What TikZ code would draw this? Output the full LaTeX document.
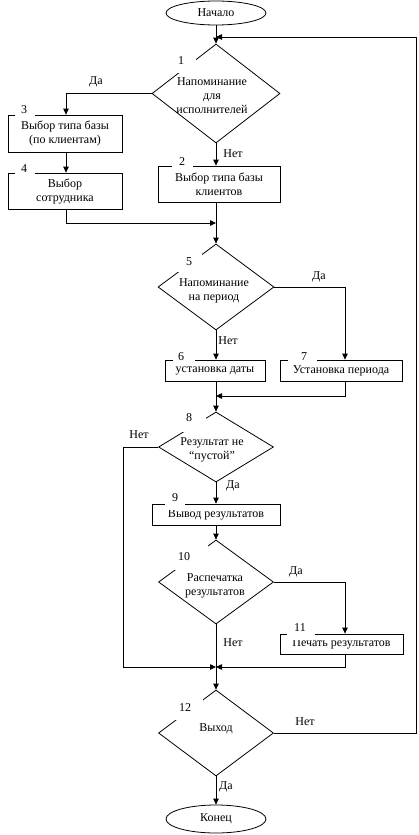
\documentclass[tikz,border=0pt]{standalone}
\usepackage{fontspec}
\setmainfont{Liberation Serif}
\usetikzlibrary{arrows.meta,shapes.geometric,calc}
\begin{document}
\begin{tikzpicture}[x=1pt,y=-1pt,
  every node/.style={font=\fontsize{12}{14}\selectfont, inner sep=0pt},
  ln/.style={line width=0.8pt},
  arr/.style={line width=0.8pt,-{Triangle[length=6pt,width=5.5pt]}},
  term/.style={draw,line width=0.8pt,ellipse,minimum width=100pt},
  dec/.style={draw,line width=0.8pt,diamond},
  proc/.style={draw,line width=0.8pt,rectangle,align=center},
  mask/.style={fill=white,rectangle},
  num/.style={},
  lbl/.style={}
]
\useasboundingbox (0,0) rectangle (418,835);
% terminals
\node[term,minimum height=24pt] (start) at (216,13) {Начало};
\node[term,minimum height=28pt] (end) at (216,819) {Конец};
% decisions
\node[dec,minimum width=128pt,minimum height=99pt] (d1) at (216,93.5) {};
\node[dec,minimum width=116pt,minimum height=86pt] (d5) at (216,287) {};
\node[dec,minimum width=115pt,minimum height=70pt] (d8) at (216,447) {};
\node[dec,minimum width=115pt,minimum height=84pt] (d10) at (216,582) {};
\node[dec,minimum width=115pt,minimum height=86pt] (d12) at (216,733) {};
% processes
\node[proc,minimum width=114pt,minimum height=37pt] (b3) at (65,133.5) {Выбор типа базы\\(по клиентам)};
\node[proc,minimum width=114pt,minimum height=36pt] (b4) at (65,191) {Выбор\\сотрудника};
\node[proc,minimum width=122pt,minimum height=36pt] (b2) at (219,184) {Выбор типа базы\\клиентов};
\node[proc,minimum width=100pt,minimum height=21pt] (b6) at (215,370.5) {установка даты};
\node[proc,minimum width=122pt,minimum height=21pt] (b7) at (341,370.5) {Установка периода};
\node[proc,minimum width=128pt,minimum height=21pt] (b9) at (216,514.5) {Вывод результатов};
\node[proc,minimum width=123pt,minimum height=20pt] (b11) at (341.5,644) {Печать результатов};
% decision texts
\node[align=center] (t1) at (212,96) {Напоминание\\для\\исполнителей};
\node[align=center] (t5) at (214,291) {Напоминание\\на период};
\node[align=center] (t8) at (212,449.5) {Результат не\\“пустой”};
\node[align=center] (t10) at (215,585.5) {Распечатка\\результатов};
\node (t12) at (216,729) {Выход};
% coordinates
\coordinate (loopin) at (216,37);
\coordinate (rt) at (416,37);
\coordinate (j1) at (216,223);
\coordinate (j2) at (216,396);
\coordinate (lc) at (123,667);
\coordinate (j3) at (216,667);
\coordinate (b7in) at ([xshift=4pt]b7.north);
\coordinate (b7out) at ([xshift=4pt]b7.south);
\coordinate (b11in) at ([xshift=3.5pt]b11.north);
\coordinate (b11out) at ([xshift=3.5pt]b11.south);
% connectors
\draw[arr] (start.south) -- (d1.north);
\draw[arr] (d12.east) -| (rt) -- (loopin);
\draw[arr] (d1.west) -| ([xshift=1pt]b3.north);
\draw[arr] (d1.south) -- (d1.south |- b2.north);
\draw[arr] ([xshift=1pt]b3.south) -- ([xshift=1pt]b4.north);
\draw[arr] ([xshift=1pt]b4.south) |- (j1);
\draw[arr] (d1.south |- b2.south) -- (d5.north);
\draw[arr] (d5.east) -| (b7in);
\draw[arr] (d5.south) -- (d5.south |- b6.north);
\draw[arr] (d5.south |- b6.south) -- (d8.north);
\draw[arr] (b7out) |- (j2);
\draw[arr] (d8.south) -- (b9.north);
\draw[arr] (d8.west) -| (lc) -- (j3);
\draw[arr] (b9.south) -- (d10.north);
\draw[arr] (d10.east) -| (b11in);
\draw[arr] (d10.south) -- (d12.north);
\draw[arr] (b11out) |- (j3);
\draw[arr] (d12.south) -- (end.north);
% number masks
\node[mask,minimum width=26pt,minimum height=17pt] (m1) at (183,64.5) {};
\node[mask,minimum width=21pt,minimum height=15pt] (m2) at (182.5,164.5) {};
\node[mask,minimum width=20pt,minimum height=13pt] (m3) at (25,112.5) {};
\node[mask,minimum width=20pt,minimum height=13pt] (m4) at (25,170.5) {};
\node[mask,minimum width=26pt,minimum height=19pt] (m5) at (189,262.5) {};
\node[mask,minimum width=22pt,minimum height=12pt] (m6) at (184,359) {};
\node[mask,minimum width=29pt,minimum height=12pt] (m7) at (302.5,359) {};
\node[mask,minimum width=26pt,minimum height=18pt] (m8) at (193,423) {};
\node[mask,minimum width=20pt,minimum height=12pt] (m9) at (175,504) {};
\node[mask,minimum width=35pt,minimum height=25pt] (m10) at (190.5,557.5) {};
\node[mask,minimum width=28pt,minimum height=12pt] (m11) at (301,634) {};
\node[mask,minimum width=29pt,minimum height=21pt] (m12) at (188.5,709.5) {};
% numbers
\node[num] (n1) at (181,61) {1};
\node[num] (n2) at (182,162) {2};
\node[num] (n3) at (24,110) {3};
\node[num] (n4) at (24,169) {4};
\node[num] (n5) at (189,262) {5};
\node[num] (n6) at (181,357) {6};
\node[num] (n7) at (304,357) {7};
\node[num] (n8) at (189,418) {8};
\node[num] (n9) at (175,498) {9};
\node[num] (n10) at (184,557) {10};
\node[num] (n11) at (300,628) {11};
\node[num] (n12) at (185,708) {12};
% branch labels
\node[lbl] (l1) at (96,82) {Да};
\node[lbl] (l2) at (233,154) {Нет};
\node[lbl] (l3) at (319,277) {Да};
\node[lbl] (l4) at (228,341) {Нет};
\node[lbl] (l5) at (139,435) {Нет};
\node[lbl] (l6) at (233,486) {Да};
\node[lbl] (l7) at (296,572) {Да};
\node[lbl] (l8) at (233,643) {Нет};
\node[lbl] (l9) at (305,722) {Нет};
\node[lbl] (l10) at (226,787) {Да};
\end{tikzpicture}
\end{document}
